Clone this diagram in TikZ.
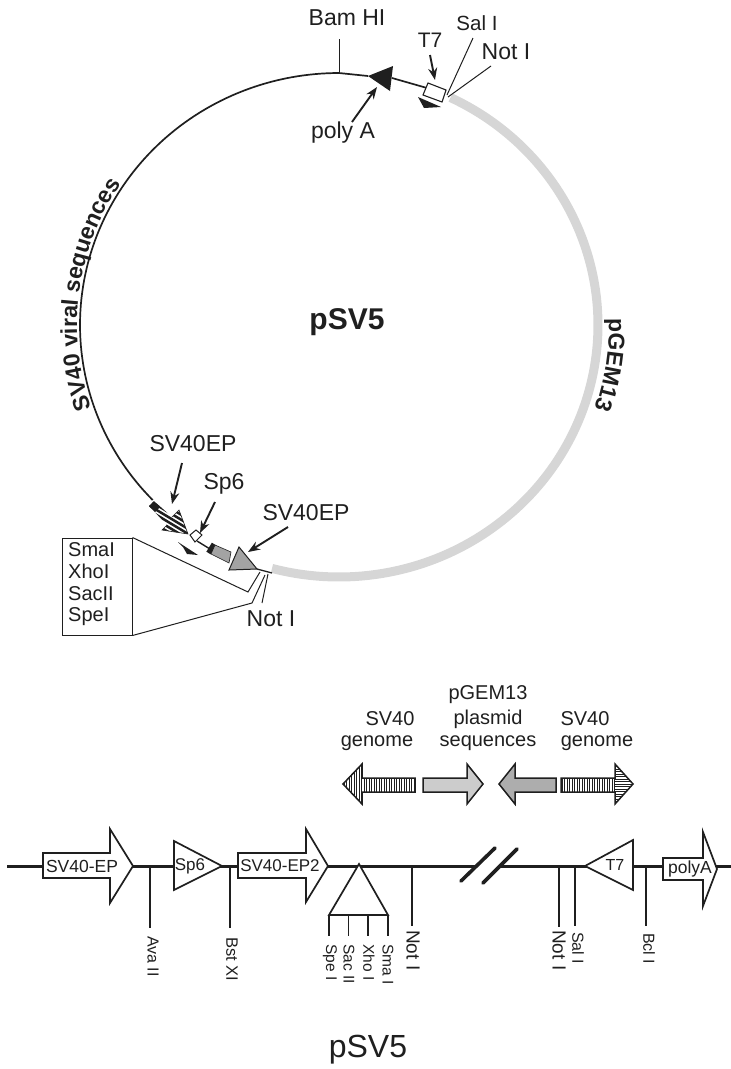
\documentclass[tikz,border=0pt]{standalone}
\usepackage{fontspec}
\setmainfont{Liberation Sans}
\usetikzlibrary{arrows.meta,decorations.text,calc}
\definecolor{ink}{gray}{0.12}
\definecolor{gring}{gray}{0.84}
\definecolor{gmid}{gray}{0.64}
\definecolor{garrowa}{gray}{0.80}
\definecolor{garrowb}{gray}{0.68}
\newcommand{\fs}[1]{\fontsize{#1}{#1}\selectfont}
\tikzset{
 x=1pt,y=-1pt,
 lab/.style={font=\fs{23},text=ink,inner sep=0pt},
 mid/.style={font=\fs{20},text=ink,inner sep=0pt},
 blab/.style={font=\fs{17.5},text=ink,inner sep=0pt},
 sitelab/.style={text=ink,inner sep=0pt,rotate=-90,anchor=west},
 leader/.style={draw=ink,line width=1pt},
 sitestick/.style={draw=ink,line width=1.4pt},
 call/.style={draw=ink,line width=1.9pt,-{Stealth[length=12pt,width=9pt]}},
 backbone/.style={draw=ink,line width=3pt},
 feature/.style={draw=ink,line width=1.7pt,fill=white,line join=miter},
 bigarrow/.style={draw=ink,line width=1.5pt,line join=miter},
}
\begin{document}
\begin{tikzpicture}
\useasboundingbox (0,0) rectangle (731,1069);
% circular map: ring
\draw[gring,line width=9pt] plot[domain=-64.5:105,samples=120] ({339+259*cos(\x)},{325+252*sin(\x)});
\draw[ink,line width=1.7pt] plot[domain=136:270,samples=100] ({339+259*cos(\x)},{325+252*sin(\x)}) -- (368,76);
\coordinate (pt) at (392,78);
\coordinate (bx) at (427,88);
\draw[ink,line width=1.7pt] (pt) -- (bx);
% top features
\node[lab] (bam) at (347,18) {Bam HI};
\coordinate (bamb) at (339,73);
\coordinate (bamt) at (339,39);
\draw[leader] (bamt) -- (bamb);
\fill[ink] (368,76) -- (393,66) -- (390,91) -- cycle;
\node[lab] (polya) at (343,133) {poly A};
\coordinate (pa1) at (352,122);
\coordinate (pa2) at (377,87);
\draw[call] (pa1) -- (pa2);
\node[font=\fs{21},text=ink,inner sep=0pt] (t7) at (430,40) {T7};
\coordinate (t71) at (430,55);
\coordinate (t72) at (435,80);
\draw[call] (t71) -- (t72);
\node[font=\fs{20.5},text=ink,inner sep=0pt] (sal) at (477,23) {Sal I};
\node[lab] (not1) at (506,52) {Not I};
\coordinate (sl1) at (473,38);
\coordinate (sl2) at (447,95);
\coordinate (nt1) at (491,66);
\coordinate (nt2) at (448,97);
\draw[leader] (sl1) -- (sl2);
\draw[leader] (nt1) -- (nt2);
\draw[ink,line width=1.1pt,fill=white] (428,83) -- (446,90) -- (442,102) -- (423,95) -- cycle;
\fill[ink] (418,97) -- (441,107) -- (424,108) -- cycle;
% ring labels
\node[font=\bfseries\fs{30},text=ink,inner sep=0pt] (psv) at (347,322) {pSV5};
\path[decorate,decoration={text along path,text align=left,
  text={|\bfseries\fs{23}\color{ink}|SV40 viral sequences}}]
  plot[domain=161:254,samples=100] ({339+262*cos(\x)},{325+255*sin(\x)});
\path[decorate,decoration={text along path,text align=left,
  text={|\bfseries\fs{23}\color{ink}|pGEM13}}]
  plot[domain=-1.5:30,samples=40] ({339+270*cos(\x)},{325+262*sin(\x)});
% lower left
\node[lab] (sv1) at (193,444) {SV40EP};
\coordinate (sv1a) at (182,463);
\coordinate (sv1b) at (172,504);
\draw[call] (sv1a) -- (sv1b);
\node[lab] (sp) at (224,484) {Sp6};
\coordinate (spa) at (215,502);
\coordinate (spb) at (200,533);
\draw[call] (spa) -- (spb);
\node[lab] (sv2) at (306,513) {SV40EP};
\coordinate (sv2a) at (288,527);
\coordinate (sv2b) at (248,552);
\draw[call] (sv2a) -- (sv2b);
% hatched arrow
\begin{scope}
\clip (154,501) -- (172,517) -- (179,510) -- (188,534) -- (162,530) -- (167,525) -- (149,506) -- cycle;
\fill[white] (145,495) rectangle (195,540);
\foreach \k in {0,...,14}{\draw[ink,line width=2.5pt] (140,{490+\k*5}) -- ++(60,36);}
\end{scope}
\draw[ink,line width=0.6pt] (172,517) -- (179,510) -- (188,534) -- (162,530) -- (167,525);
\fill[ink] (149,506) -- (154,501) -- (160,507) -- (155,512) -- cycle;
\coordinate (bl1) at (197,541);
\coordinate (bl2) at (210,549);
\draw[ink,line width=1.4pt] (bl1) -- (bl2);
\draw[ink,line width=1pt,fill=white] (190,535) -- (196,530) -- (202,535) -- (195,542) -- cycle;
\fill[ink] (178,542) -- (198,555) -- (187,554) -- (183,547) -- cycle;
\draw[ink,line width=5pt] (214,544) -- (208.5,553);
\draw[ink,line width=0.6pt,fill=gmid] (215,545) -- (231,552) -- (229,563) -- (211,554) -- cycle;
\draw[ink,line width=1pt,fill=gmid] (239,547) -- (229,570) -- (257,569) -- cycle;
\coordinate (gt) at (257,569);
\coordinate (ge) at (272,573);
\draw[ink,line width=1.3pt] (gt) -- (ge);
% inset box
\node[draw=ink,line width=1pt,minimum width=70pt,minimum height=97pt,inner sep=0pt] (ins) at (97,586.5) {};
\foreach \n/\y in {SmaI/550,XhoI/571,SacII/594,SpeI/617}{\node[mid,anchor=west] at (68,\y) {\n};}
\draw[leader] (ins.north east) -- (248,592) -- (260,572);
\draw[leader] (ins.south east) -- (252,603) -- (265,575);
\coordinate (n1) at (268,574);
\coordinate (n2) at (262,603);
\draw[leader] (n1) -- (n2);
\node[lab] (not2) at (271,619) {Not I};
% legend
\node[mid] at (390,719) {SV40};
\node[mid] at (377,743) {genome};
\foreach \t/\y in {pGEM13/695,plasmid/719,sequences/743}{\node[mid] at (488,\y) {\t};}
\node[mid] at (585,719) {SV40};
\node[mid] at (597,743) {genome};
% arrow 1
\begin{scope}
\clip (343,784) -- (362,764) -- (362,778) -- (415,778) -- (415,792) -- (362,792) -- (362,804) -- cycle;
\fill[white] (340,760) rectangle (420,810);
\foreach \k in {0,...,30}{\draw[ink,line width=0.9pt] ({344+\k*2.5},760) -- ({344+\k*2.5},810);}
\end{scope}
\draw[bigarrow] (343,784) -- (362,764) -- (362,778) -- (415,778) -- (415,792) -- (362,792) -- (362,804) -- cycle;
% arrow 2 and 3
\draw[bigarrow,fill=garrowa] (423,778) -- (467,778) -- (467,764) -- (483,784) -- (467,804) -- (467,792) -- (423,792) -- cycle;
\draw[bigarrow,fill=garrowb] (499,784) -- (515,764) -- (515,778) -- (556,778) -- (556,792) -- (515,792) -- (515,804) -- cycle;
% arrow 4
\begin{scope}
\clip (561,778) -- (615,778) -- (615,764) -- (633,784) -- (615,804) -- (615,792) -- (561,792) -- cycle;
\fill[white] (555,760) rectangle (640,810);
\foreach \k in {0,...,21}{\draw[ink,line width=0.9pt] ({562+\k*2.5},760) -- ({562+\k*2.5},810);}
\foreach \k in {0,...,16}{\draw[ink,line width=0.9pt] (615,{764+\k*2.5}) -- (640,{764+\k*2.5});}
\end{scope}
\draw[bigarrow] (561,778) -- (615,778) -- (615,764) -- (633,784) -- (615,804) -- (615,792) -- (561,792) -- cycle;
% backbone
\coordinate (b0) at (7,866);
\coordinate (b1) at (476,866);
\coordinate (b2) at (499,866);
\coordinate (b3) at (731,866);
\draw[backbone] (b0) -- (b1);
\draw[backbone] (b2) -- (b3);
\draw[ink,line width=3.6pt,line cap=round] (461,881) -- (495,848);
\draw[ink,line width=3.6pt,line cap=round] (483,883) -- (517,849);
% sites
\foreach \x/\l/\e/\t/\f/\s in {150/153/928/Ava II/16/936,230/232/928/Bst XI/16.5/937,412/413/926/Not I/19/930,559/559/927/Not I/19/930,575/578/926/Sal I/16/932,646/649/926/Bcl I/16/933}{
  \draw[sitestick] (\x,866) -- (\x,\e);
  \node[sitelab,font=\fs{\f}] at (\l,\s) {\t};
}
\draw[feature] (359,864) -- (329,915) -- (388,915) -- cycle;
\foreach \x/\l/\t in {329/330/Spe I,348.5/349/Sac II,368/369/Xho I,388/388/Sma I}{
  \draw[sitestick] (\x,915) -- (\x,936);
  \node[sitelab,font=\fs{15.5}] at (\l,944) {\t};
}
% features
\draw[feature] (43,853) -- (110,853) -- (110,829) -- (133,866) -- (110,903) -- (110,878) -- (43,878) -- cycle;
\node[blab] (f1) at (82,866) {SV40-EP};
\draw[feature] (174,841) -- (222,866) -- (174,890) -- cycle;
\node[font=\fs{17},text=ink,inner sep=0pt] (f2) at (190,866) {Sp6};
\draw[feature] (238,853) -- (306,853) -- (306,829) -- (328,866) -- (306,902) -- (306,878) -- (238,878) -- cycle;
\node[font=\fs{17},text=ink,inner sep=0pt] (f3) at (280,866) {SV40-EP2};
\draw[feature] (585,866) -- (633,840) -- (633,890) -- cycle;
\node[font=\fs{16},text=ink,inner sep=0pt] (f4) at (615,865) {T7};
\draw[feature] (663,858) -- (703,858) -- (703,832) -- (717,869) -- (703,906) -- (703,880) -- (663,880) -- cycle;
\node[blab] (f5) at (690,869) {polyA};
\node[font=\fs{32},text=ink,inner sep=0pt] (title) at (368,1050) {pSV5};
\end{tikzpicture}
\end{document}
